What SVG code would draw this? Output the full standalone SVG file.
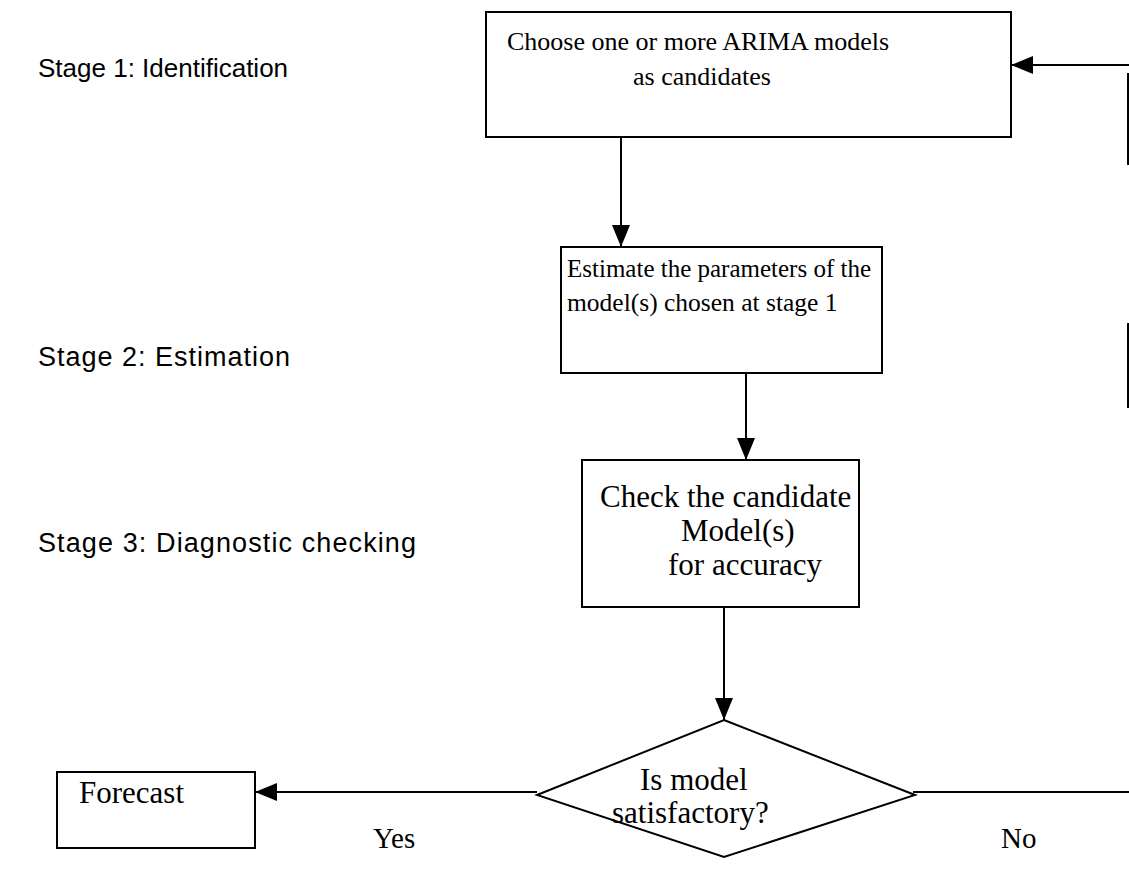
<svg xmlns="http://www.w3.org/2000/svg" width="1129" height="883" viewBox="0 0 1129 883">
<style>
.box{fill:#fff;stroke:#000;stroke-width:2}
.ln{fill:none;stroke:#000;stroke-width:2}
.t{font-family:"Liberation Serif","Times New Roman",serif;font-size:26px;fill:#000}
.tl{font-family:"Liberation Serif","Times New Roman",serif;font-size:31px;fill:#000}
.s{font-family:"Liberation Sans",Arial,sans-serif;font-size:26px;fill:#000}
</style>
<defs>
<marker id="ah" markerWidth="22" markerHeight="18" refX="22" refY="9" orient="auto" markerUnits="userSpaceOnUse">
<path d="M0,0 L22,9 L0,18 Z" fill="#000"/>
</marker>
</defs>
<rect width="1129" height="883" fill="#fff"/>
<g id="labels">
<text class="s" x="38" y="77">Stage 1: Identification</text>
<text class="s" x="38" y="366" style="font-size:27px" textLength="252" lengthAdjust="spacing">Stage 2: Estimation</text>
<text class="s" x="38" y="552" style="font-size:27px" textLength="378" lengthAdjust="spacing">Stage 3: Diagnostic checking</text>
</g>
<g id="connectors">
<line class="ln" x1="621" y1="137" x2="621" y2="247" marker-end="url(#ah)"/>
<line class="ln" x1="746" y1="373" x2="746" y2="460" marker-end="url(#ah)"/>
<line class="ln" x1="724" y1="607" x2="724" y2="720" marker-end="url(#ah)"/>
<line class="ln" x1="537" y1="792" x2="255" y2="792" marker-end="url(#ah)"/>
<line class="ln" x1="913" y1="792" x2="1129" y2="792"/>
<line class="ln" x1="1128" y1="73" x2="1128" y2="165"/>
<line class="ln" x1="1128" y1="323" x2="1128" y2="408"/>
<line class="ln" x1="1129" y1="65" x2="1011" y2="65" marker-end="url(#ah)"/>
</g>
<g id="identify">
<rect class="box" x="486" y="12" width="525" height="125"/>
<text class="t" x="507" y="50">Choose one or more ARIMA models</text>
<text class="t" x="633" y="85">as candidates</text>
</g>
<g id="estimate">
<rect class="box" x="561" y="247" width="321" height="126"/>
<text class="t" x="567" y="277" style="font-size:25px">Estimate the parameters of the</text>
<text class="t" x="567" y="311" style="font-size:25.5px">model(s) chosen at stage 1</text>
</g>
<g id="check">
<rect class="box" x="582" y="460" width="277" height="147"/>
<text class="tl" x="600" y="507">Check the candidate</text>
<text class="tl" x="681" y="541">Model(s)</text>
<text class="tl" x="668" y="575">for accuracy</text>
</g>
<g id="decision">
<polygon class="box" points="724,720 915,795 724,857 537,795"/>
<text class="tl" x="640" y="790">Is model</text>
<text class="tl" x="612" y="823">satisfactory?</text>
</g>
<g id="forecast">
<rect class="box" x="57" y="772" width="198" height="76"/>
<text class="tl" x="79" y="803">Forecast</text>
</g>
<g id="branch-labels">
<text class="t" x="373" y="848" style="font-size:29px">Yes</text>
<text class="t" x="1001" y="848" style="font-size:29px">No</text>
</g>
</svg>
